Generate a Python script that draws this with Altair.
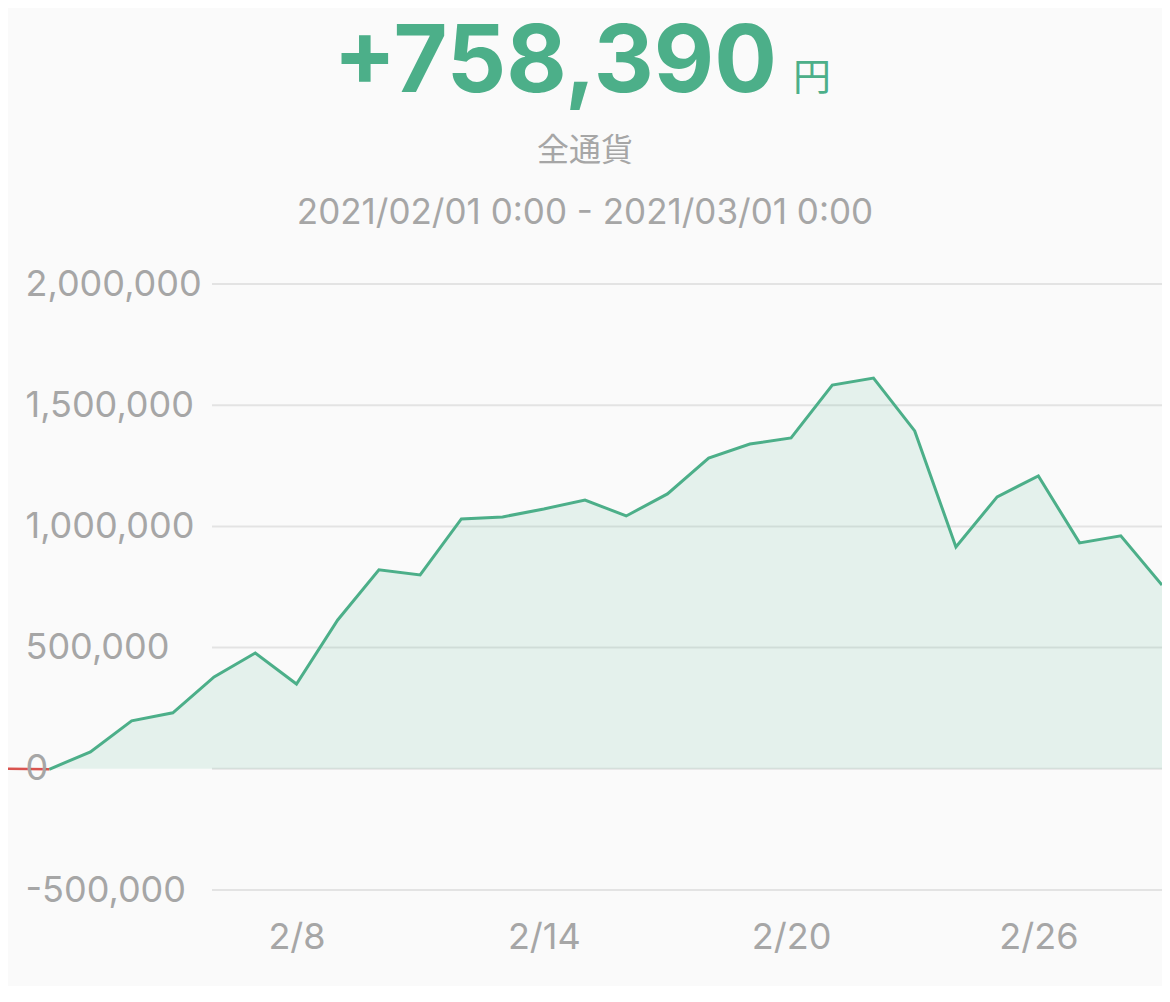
import altair as alt
import pandas as pd

# ---- data ----
dates = [f"2021-02-{d:02d}T00:00:00" for d in range(1, 29)] + ["2021-03-01T00:00:00"]
values = [0, -2000, 70000, 198000, 231000, 379000, 478000, 350000, 614000,
          821000, 800000, 1031000, 1039000, 1072000, 1109000, 1043000,
          1134000, 1282000, 1340000, 1365000, 1583000, 1612000, 1394000,
          915000, 1122000, 1208000, 932000, 961000, 758390]
y_ticks = [-500000, 0, 500000, 1000000, 1500000, 2000000]
x_tick_days = [8, 14, 20, 26]
total_text = "+758,390"
unit_text = "円"
scope_text = "全通貨"
range_text = "2021/02/01 0:00 - 2021/03/01 0:00"

GREEN = "#4caf89"
RED = "#d9534f"
GRAY = "#a6a6a6"
GRID = "#e3e3e3"
FONT = "Inter"

df = pd.DataFrame({"date": dates, "value": values})
df_red = df.iloc[:2]
df_green = df.iloc[1:]
grid_df = pd.DataFrame({"v": y_ticks})

W, H = 1154, 606

x_scale = alt.Scale(domain=[alt.DateTime(year=2021, month=2, date=1),
                            alt.DateTime(year=2021, month=3, date=1)])
y_scale = alt.Scale(domain=[-500000, 2000000], nice=False, zero=False)

x_enc = alt.X("date:T", scale=x_scale, axis=alt.Axis(
    values=[alt.DateTime(year=2021, month=2, date=d) for d in x_tick_days],
    format="%-m/%-d", title=None, grid=False, domain=False, ticks=False,
    tickSize=0, labelFontSize=36, labelColor=GRAY, labelFont=FONT,
    labelPadding=30, labelFlush=False, labelOverlap=False))

grid = alt.Chart(grid_df).mark_rule(color=GRID, strokeWidth=2).encode(
    y=alt.Y("v:Q", scale=y_scale, axis=alt.Axis(
        values=y_ticks, format=",d", title=None, grid=False, domain=False,
        labelExpr="replace(datum.label, '\u2212', '-')",
        ticks=False, tickSize=0, labelAlign="left", labelPadding=-17,
        labelFontSize=36, labelColor=GRAY, labelFont=FONT,
        labelOverlap=False, zindex=1)),
    x=alt.value(204), x2=alt.value(W))

area = alt.Chart(df_green).mark_area(color="#55b88f", opacity=0.13).encode(
    x=x_enc, y=alt.Y("value:Q", scale=y_scale), y2=alt.datum(0))

line_g = alt.Chart(df_green).mark_line(color=GREEN, strokeWidth=3).encode(
    x=x_enc, y=alt.Y("value:Q", scale=y_scale))
line_r = alt.Chart(df_red).mark_line(color=RED, strokeWidth=2.5).encode(
    x=x_enc, y=alt.Y("value:Q", scale=y_scale))


def label(txt, x, y, size, color, weight="normal", font=FONT, align="center",
          baseline="alphabetic"):
    return alt.Chart(pd.DataFrame({"t": [txt]})).mark_text(
        fontSize=size, color=color, fontWeight=weight, font=font,
        align=align, baseline=baseline).encode(
        text="t:N", x=alt.value(x), y=alt.value(y))


t1 = label(total_text, 547, -192, 93, GREEN, weight="bold")
t2 = label(unit_text, 804, -194, 38, GREEN, font="Noto Sans CJK JP")
t3 = label(scope_text, 577, -133, 32, GRAY, font="Noto Sans CJK JP",
           baseline="middle")
t4 = label(range_text, 577, -71, 35, GRAY, baseline="middle")

chart = alt.layer(grid, area, line_g, line_r, t1, t2, t3, t4).properties(
    width=W, height=H,
    autosize=alt.AutoSizeParams(type="none"),
    padding={"left": 0, "top": 276, "right": 0, "bottom": 96},
    background="#fafafa",
).configure_view(stroke=None)

chart.save("out.html", embed_options={"renderer": "svg", "actions": False})
